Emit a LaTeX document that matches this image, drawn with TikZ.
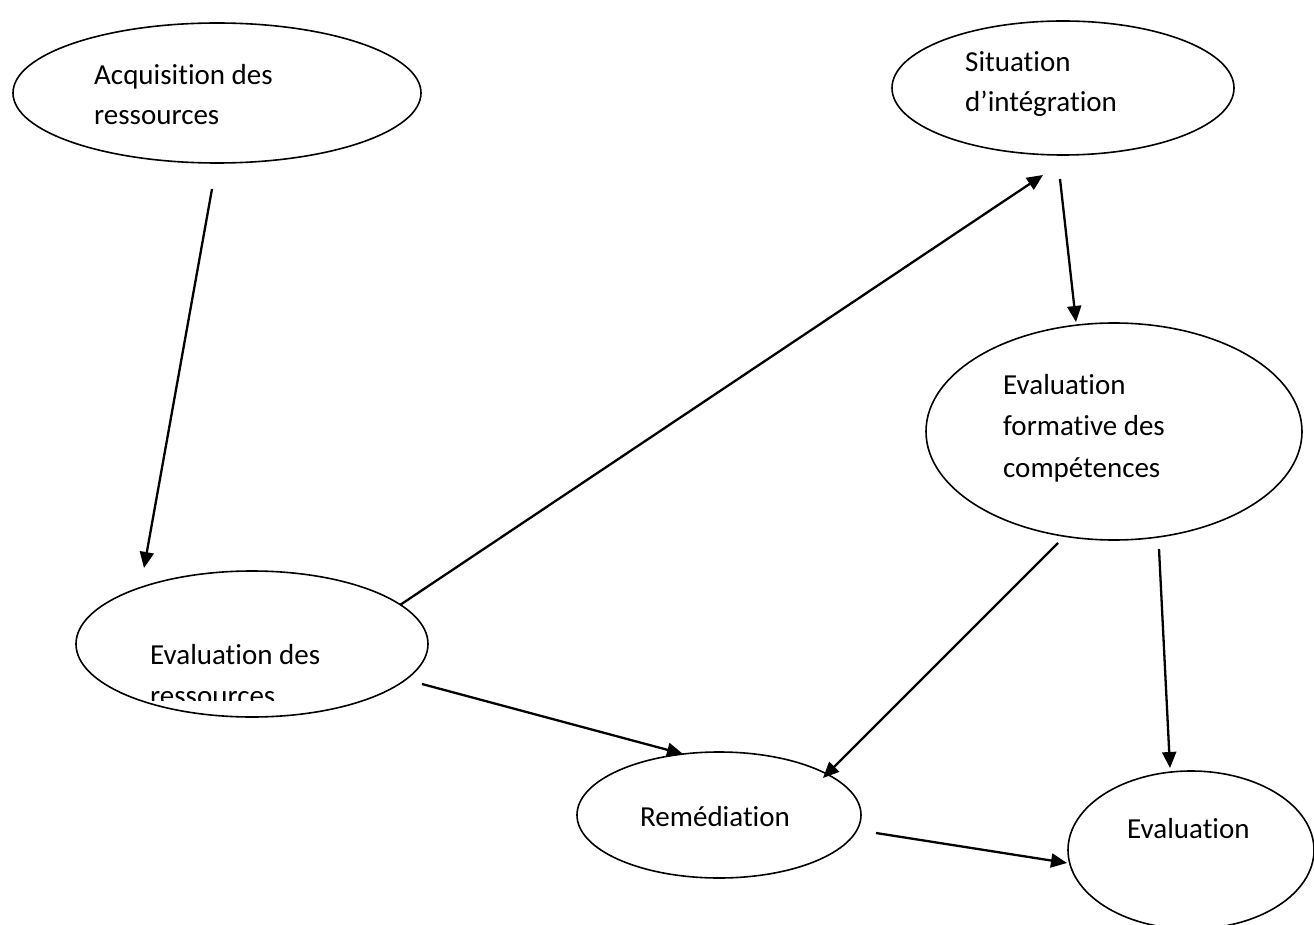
\documentclass[tikz,border=0pt]{standalone}
\usepackage{fontspec}
\setmainfont{Carlito}[Ligatures={NoCommon}]
\usetikzlibrary{shapes.geometric,arrows.meta}
\tikzset{
  bubble/.style={draw=black, line width=1.6pt, ellipse, inner sep=0pt},
  lbl/.style={anchor=base west, inner sep=0pt, font=\fontsize{29pt}{40pt}\selectfont},
  arr/.style={draw=black, line width=2.3pt, -{Triangle[length=16pt,width=14pt]}}
}
\begin{document}
\begin{tikzpicture}[x=1pt,y=-1pt]
\useasboundingbox (0,0) rectangle (1314,925);
\fill[white] (0,0) rectangle (1314,925);
% ellipses
\node[bubble, minimum width=408pt, minimum height=140pt] (acq) at (217,93) {};
\node[bubble, minimum width=342pt, minimum height=134pt] (sit) at (1063,88) {};
\node[bubble, minimum width=376pt, minimum height=217pt] (efc) at (1114,431.5) {};
\node[bubble, minimum width=352pt, minimum height=146pt] (evr) at (252,644) {};
\node[bubble, minimum width=284pt, minimum height=126pt] (rem) at (719,815) {};
\node[bubble, minimum width=246pt, minimum height=158pt] (eva) at (1191,850) {};
% texts
\node[lbl] (t1a) at (94,85) {Acquisition des};
\node[lbl] (t1b) at (94,124.5) {ressources};
\node[lbl] (t2a) at (965,72) {Situation};
\node[lbl] (t2b) at (965,112) {d’intégration};
\node[lbl] (t3a) at (1003,394) {Evaluation};
\node[lbl] (t3b) at (1003,435.5) {formative des};
\node[lbl] (t3c) at (1003,477) {compétences};
\begin{scope}
\clip (0,0) rectangle (1314,700);
\node[lbl] (t4a) at (150,664.5) {Evaluation des};
\node[lbl] (t4b) at (150,705) {ressources};
\end{scope}
\node[lbl] (t5) at (640,826) {Remédiation};
\node[lbl] (t6) at (1127,838) {Evaluation};
% connectors
\draw[arr] ([shift={(-5,96)}]acq.center) -- ([shift={(-108,-76)}]evr.center);
\draw[arr] ([shift={(148,-39)}]evr.center) -- ([shift={(-20,87)}]sit.center);
\draw[arr] ([shift={(-3,91)}]sit.center) -- ([shift={(-38,-109.5)}]efc.center);
\draw[arr] ([shift={(-56,111.5)}]efc.center) -- ([shift={(104,-37)}]rem.center);
\draw[arr] ([shift={(45,117.5)}]efc.center) -- ([shift={(-21,-82)}]eva.center);
\draw[arr] ([shift={(170,40)}]evr.center) -- ([shift={(-36,-61)}]rem.center);
\draw[arr] ([shift={(157,18)}]rem.center) -- ([shift={(-124,13)}]eva.center);
\end{tikzpicture}
\end{document}
